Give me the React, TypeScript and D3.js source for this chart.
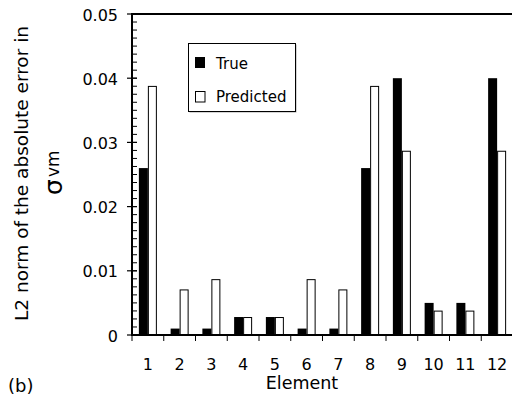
import React from "react";
import * as d3 from "d3";

const elements = ["1", "2", "3", "4", "5", "6", "7", "8", "9", "10", "11", "12"];
const trueValues = [0.026, 0.001, 0.001, 0.0028, 0.0028, 0.001, 0.001, 0.026, 0.04, 0.005, 0.005, 0.04];
const predictedValues = [0.0388, 0.0071, 0.0087, 0.0028, 0.0028, 0.0087, 0.0071, 0.0388, 0.0287, 0.0038, 0.0038, 0.0287];
const seriesNames = ["True", "Predicted"];
const yTicks = [0, 0.01, 0.02, 0.03, 0.04, 0.05];
const yTickLabels = ["0", "0.01", "0.02", "0.03", "0.04", "0.05"];

const W = 512;
const H = 404;
const FONT = "DejaVu Sans";

export default function App() {
  const x = d3.scaleBand<string>().domain(elements).range([132, 513]).paddingInner(0).paddingOuter(0);
  const xs = d3.scaleBand<string>().domain(seriesNames).range([0, x.bandwidth()]).paddingInner(0).paddingOuter(0.764);
  const y = d3.scaleLinear().domain([0, 0.05]).range([335, 14]);
  const minorTicks = d3.range(0, 0.05 + 1e-9, 0.01 / 8);
  const boundaries = elements.map((e) => x(e)!).concat([x.range()[1]]);

  return (
    <svg width={W} height={H} style={{ position: "absolute", left: 0, top: 0, background: "#fff" }}>
      <rect x={0} y={0} width={W} height={H} fill="#fff" />
      {/* bars */}
      {elements.map((e, i) => (
        <g key={e}>
          <rect
            x={x(e)! + xs("True")!}
            y={y(trueValues[i])}
            width={xs.bandwidth()}
            height={y(0) - y(trueValues[i])}
            fill="#000"
          />
          <rect
            x={x(e)! + xs("Predicted")! + 0.5}
            y={y(predictedValues[i]) + 0.5}
            width={xs.bandwidth() - 1}
            height={y(0) - y(predictedValues[i]) - 0.5}
            fill="#fff"
            stroke="#000"
            strokeWidth={1}
          />
        </g>
      ))}
      {/* top frame */}
      <line x1={131} x2={W} y1={y(0.05)} y2={y(0.05)} stroke="#000" strokeWidth={2.2} />
      {/* left axis */}
      <line x1={132} x2={132} y1={y(0.05) - 1} y2={y(0) + 1} stroke="#000" strokeWidth={2} />
      {minorTicks.map((t, i) => (
        <line key={"m" + i} x1={132} x2={137} y1={y(t)} y2={y(t)} stroke="#000" strokeWidth={1} />
      ))}
      {yTicks.map((t, i) => (
        <g key={"t" + i}>
          <line x1={127} x2={137} y1={y(t)} y2={y(t)} stroke="#000" strokeWidth={1.2} />
          <text x={118} y={y(t) + 6.5} textAnchor="end" fontFamily={FONT} fontSize={16} fill="#000">
            {yTickLabels[i]}
          </text>
        </g>
      ))}
      {/* bottom axis */}
      <line x1={131} x2={W} y1={y(0)} y2={y(0)} stroke="#000" strokeWidth={2} />
      {boundaries.map((b, i) => (
        <line key={"b" + i} x1={b} x2={b} y1={y(0)} y2={y(0) + 6} stroke="#000" strokeWidth={1} />
      ))}
      {elements.map((e) => (
        <text key={"xl" + e} x={x(e)! + x.bandwidth() / 2} y={370} textAnchor="middle" fontFamily={FONT} fontSize={16} fill="#000">
          {e}
        </text>
      ))}
      {/* axis titles */}
      <text x={302} y={389} textAnchor="middle" fontFamily={FONT} fontSize={17.5} fill="#000">
        Element
      </text>
      <text x={8} y={392} fontFamily={FONT} fontSize={18} fill="#000">
        (b)
      </text>
      <text
        transform={`translate(28, 173.5) rotate(-90)`}
        textAnchor="middle"
        fontFamily={FONT}
        fontSize={18.5}
        fill="#000"
      >
        L2 norm of the absolute error in
      </text>
      <g transform="translate(62, 195) rotate(-90)">
        <text x={0} y={0} fontFamily={FONT} fontSize={25} fill="#000">σ</text>
        <text x={18} y={-3} fontFamily={FONT} fontSize={17} fill="#000">vm</text>
      </g>
      {/* legend */}
      <rect x={189.5} y={44.5} width={107} height={68} fill="#aaa" />
      <rect x={188.5} y={43.5} width={107} height={68} fill="#fff" stroke="#000" strokeWidth={1} />
      <rect x={195} y={57} width={10} height={11} fill="#000" />
      <text x={216} y={68.5} fontFamily={FONT} fontSize={15} fill="#000">True</text>
      <rect x={195.5} y={91.5} width={9.5} height={10.5} fill="#fff" stroke="#000" strokeWidth={1} />
      <text x={216} y={102} fontFamily={FONT} fontSize={15} fill="#000">Predicted</text>
    </svg>
  );
}
